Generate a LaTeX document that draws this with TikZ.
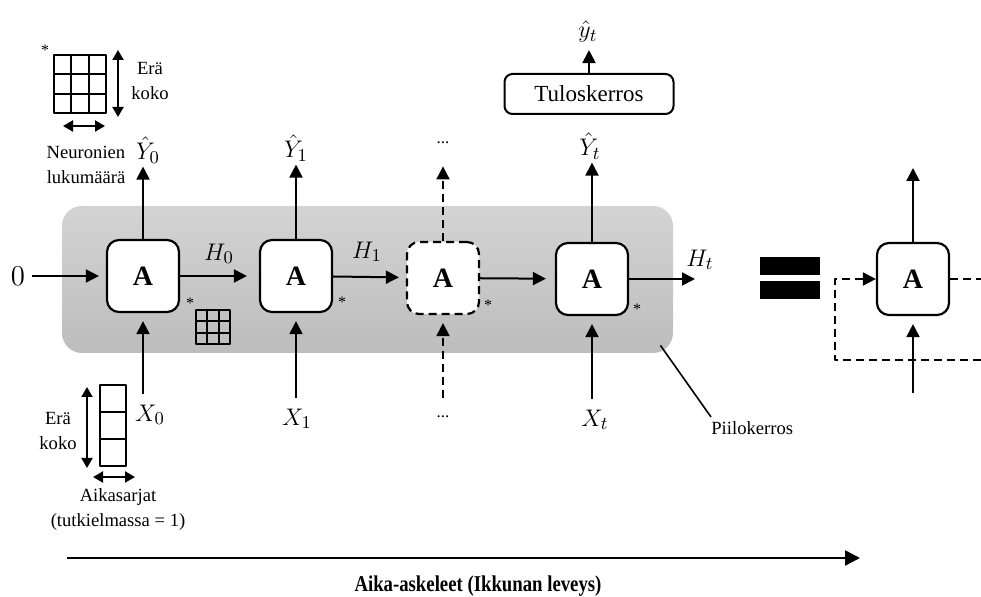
\documentclass[tikz,border=0pt]{standalone}
\usepackage{fontspec}
\setmainfont{Liberation Serif}
\usepackage{graphicx}
\usetikzlibrary{positioning, arrows.meta}

\begin{document}
\begin{tikzpicture}[x=0.5pt, y=-0.5pt, line join=round,
    cell/.style={draw, line width=1.1pt, rounded corners=6pt, fill=white,
      minimum width=36pt, minimum height=36pt, inner sep=0pt,
      font=\fontsize{14}{14}\selectfont\bfseries},
    flow/.style={-{Triangle[length=6.5pt,width=6.5pt]}, line width=1pt},
    axis/.style={-{Triangle[length=7.5pt,width=7.5pt]}, line width=1.3pt},
    dim/.style={{Triangle[length=5pt,width=5.5pt]}-{Triangle[length=5pt,width=5.5pt]}, line width=1pt},
    dash4/.style={dash pattern=on 4pt off 2.5pt},
    mlbl/.style={inner sep=1.5pt, font=\fontsize{13}{13}\selectfont},
    note/.style={align=center, inner sep=0pt, font=\fontsize{9.3}{12.5}\selectfont},
    ast/.style={inner sep=0pt, font=\fontsize{8}{8}\selectfont},
    dots/.style={inner sep=1pt, font=\fontsize{8.5}{8.5}\selectfont},
    layer/.style={top color=black!17, bottom color=black!26, rounded corners=10pt,
      minimum width=305.5pt, minimum height=73.5pt, inner sep=0pt},
    gridline/.style={line width=1pt}]

    \useasboundingbox (0,0) rectangle (981,597);

    % Hidden layer background
    \node[layer] (hidden) at (367.5,279.5) {};

    % Cells (unrolled)
    \node[cell] (a0) at (143,276) {A};
    \node[cell] (a1) at (296,276) {A};
    \node[cell, dash4] (a2) at (443,278) {A};
    \node[cell] (a3) at (592,279) {A};

    % Cell (rolled, right)
    \node[cell] (ar) at (913,279) {A};

    % Labels
    \node[mlbl, font=\fontsize{14}{14}\selectfont] (zero) at (18,276) {$0$};
    \node[mlbl] (h0) at (219,254) {$H_0$};
    \node[mlbl] (h1) at (367,252) {$H_1$};
    \node[mlbl] (ht) at (700,260) {$H_t$};
    \node[mlbl] (y0) at (148,150) {$\hat{Y}_0$};
    \node[mlbl] (y1) at (296,148) {$\hat{Y}_1$};
    \node[dots] (ydots) at (443,143) {...};
    \node[mlbl] (yt) at (590,146) {$\hat{Y}_t$};
    \node[mlbl] (x0) at (150,415) {$X_0$};
    \node[mlbl] (x1) at (297,419) {$X_1$};
    \node[dots] (xdots) at (443,417) {...};
    \node[mlbl] (xt) at (595,420) {$X_t$};

    % Output layer
    \node[draw, line width=1pt, rounded corners=4pt, minimum width=84.5pt,
      minimum height=20pt, font=\fontsize{11.5}{12}\selectfont] (outl) at (589,94) {Tuloskerros};
    \node[mlbl] (yhat) at (588,32) {$\hat{y}_t$};

    % Hidden state arrows
    \draw[flow, shorten <=2pt, shorten >=3.5pt] (zero) -- (a0);
    \draw[flow, shorten >=6pt] (a0) -- (a1);
    \draw[flow, shorten >=3.5pt] (a1) -- (a2);
    \draw[flow, shorten >=4.5pt] (a2) -- (a3);
    \coordinate (htend) at (695,279);
    \draw[flow] (a3) -- (htend);

    % Outputs
    \draw[flow] (a0.north) -- (a0 |- y0.south);
    \draw[flow] (a1.north) -- (a1 |- y1.south);
    \draw[flow, dash4, shorten >=10pt] (a2.north) -- (a2 |- ydots.south);
    \draw[flow] (a3.north) -- (a3 |- yt.south);
    \draw[flow, shorten >=2pt] (outl.north) -- (outl.north |- yhat.south);

    % Inputs
    \draw[flow, shorten <=4pt, shorten >=4pt] (a0 |- x0.north) -- (a0.south);
    \draw[flow, shorten <=4pt, shorten >=4pt] (a1 |- x1.north) -- (a1.south);
    \draw[flow, dash4, shorten <=8pt, shorten >=4pt] (a2 |- xdots.north) -- (a2.south);
    \draw[flow, shorten <=4pt, shorten >=4pt] (a3 |- xt.north) -- (a3.south);

    % Asterisks
    \node[ast] (s0) at (190,303) {*};
    \node[ast] (s1) at (342,302) {*};
    \node[ast] (s2) at (488,305) {*};
    \node[ast] (s3) at (637,309) {*};
    \node[ast] (s4) at (45,50) {*};

    % Small state grid
    \draw[gridline] (196,310) rectangle (230,344);
    \foreach \k in {1,2} {
      \draw[gridline] (196+11.33*\k,310) -- (196+11.33*\k,344);
      \draw[gridline] (196,310+11.33*\k) -- (230,310+11.33*\k);
    }

    % Output grid (top left)
    \draw[gridline] (54,55) rectangle (106,113);
    \foreach \k in {1,2} {
      \draw[gridline] (54+17.33*\k,55) -- (54+17.33*\k,113);
      \draw[gridline] (54,55+19.33*\k) -- (106,55+19.33*\k);
    }
    \draw[dim] (118,50) -- (118,117);
    \draw[dim] (63,126) -- (105,126);
    \node[note] (era1) at (150,81) {Erä\\koko};
    \node[note] (neur) at (86,165) {Neuronien\\lukumäärä};

    % Input column (bottom left)
    \draw[gridline] (100,385) rectangle (126,466);
    \foreach \k in {1,2} {
      \draw[gridline] (100,385+27*\k) -- (126,385+27*\k);
    }
    \draw[dim] (87,387) -- (87,468);
    \draw[dim] (93,477) -- (135,477);
    \node[note] (era2) at (58,431) {Erä\\koko};
    \node[note] (aika) at (118,510) {Aikasarjat\\(tutkielmassa = 1)};

    % Hidden layer label
    \node[note, anchor=north west] (piilo) at (711,421) {Piilokerros};
    \draw[line width=0.8pt] ([shift={(-6.5pt,4pt)}]hidden.south east) -- ([yshift=2pt]piilo.north west);

    % Equals sign
    \fill (760,257) rectangle (820,275);
    \fill (760,281) rectangle (820,299);

    % Recurrent loop (rolled)
    \coordinate (lpa) at (981,279);
    \coordinate (lpb) at (981,360);
    \coordinate (lpc) at (835,360);
    \coordinate (lpd) at (835,279);
    \draw[line width=1pt, dash4] (ar.east) -- (lpa);
    \draw[flow, dash4] (lpb) -- (lpc) -- (lpd) -- (ar.west);
    \coordinate (arup) at (913,168);
    \coordinate (arin) at (913,393);
    \draw[flow] (ar.north) -- (arup);
    \draw[flow, shorten >=4pt] (arin) -- (ar.south);

    % Time axis
    \coordinate (t0) at (67,558);
    \coordinate (t1) at (860,558);
    \draw[axis] (t0) -- (t1);
    \node (axislbl) at (478,586) {\fontsize{11.3}{12}\selectfont\bfseries\scalebox{0.83}[1]{Aika-askeleet (Ikkunan leveys)}};
  \end{tikzpicture}
\end{document}
